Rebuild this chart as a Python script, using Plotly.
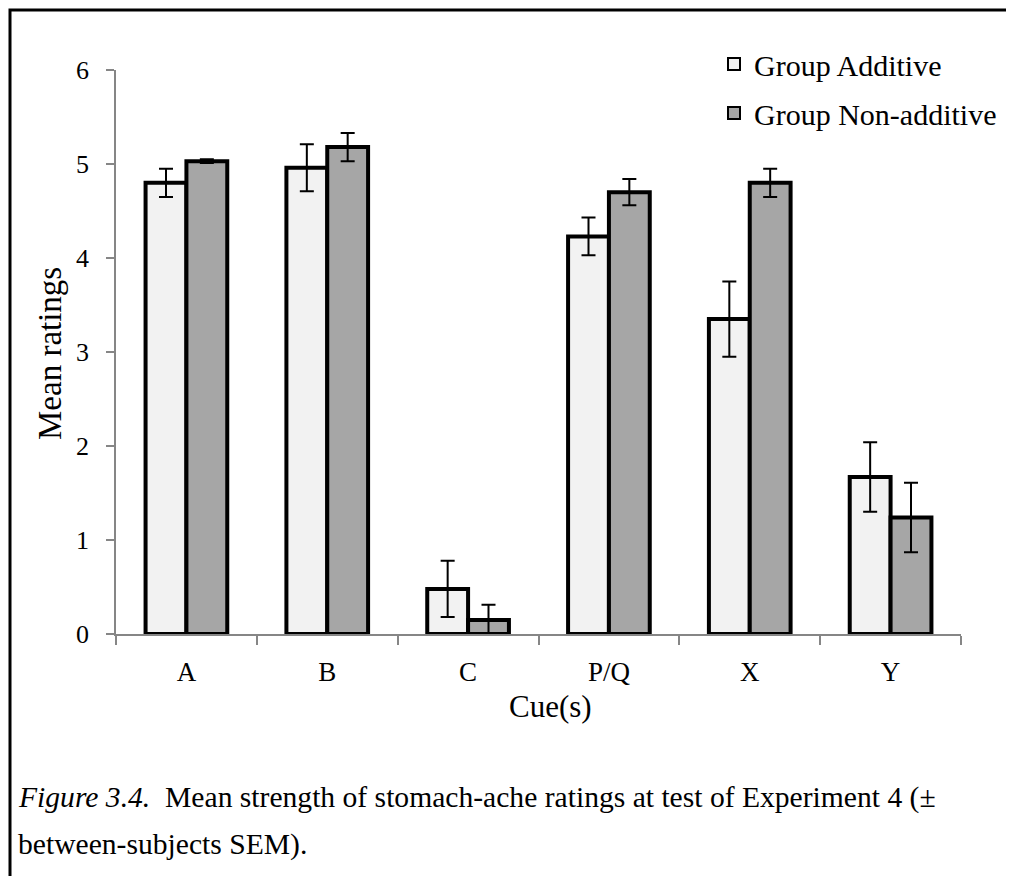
import plotly.graph_objects as go

categories = ["A", "B", "C", "P/Q", "X", "Y"]
additive = [4.80, 4.96, 0.48, 4.23, 3.35, 1.67]
additive_err = [0.15, 0.25, 0.30, 0.20, 0.40, 0.37]
nonadditive = [5.03, 5.18, 0.15, 4.70, 4.80, 1.24]
nonadditive_err = [0.02, 0.15, 0.16, 0.14, 0.15, 0.37]
series_names = ["Group Additive", "Group Non-additive"]
y_ticks = [0, 1, 2, 3, 4, 5, 6]

FONT = "Liberation Serif"
W, H = 998, 868
OFF = 8  # page body margin
L, T = 116 - OFF, 70 - OFF
R = W - (961 - OFF)
B = H - (634 - OFF)
pw, ph = W - L - R, H - T - B

def px(x):
    return (x - OFF - L) / pw

def py(y):
    return (H - B - (y - OFF)) / ph

fig = go.Figure()
fig.add_trace(go.Bar(
    x=categories, y=additive, name=series_names[0],
    marker=dict(color="#f2f2f2", line=dict(color="black", width=4)),
    error_y=dict(type="data", array=additive_err, color="black", thickness=2, width=7),
    legendgroup="a",
))
fig.add_trace(go.Bar(
    x=categories, y=nonadditive, name=series_names[1],
    marker=dict(color="#a6a6a6", line=dict(color="black", width=4)),
    error_y=dict(type="data", array=nonadditive_err, color="black", thickness=2, width=7),
    legendgroup="b",
))

fig.update_layout(
    width=W, height=H,
    margin=dict(l=L, r=R, t=T, b=B, autoexpand=False),
    paper_bgcolor="white", plot_bgcolor="white",
    barmode="group", bargap=0.42, bargroupgap=0,
    font=dict(family=FONT, color="black"),
    legend=dict(x=px(714), y=py(38), xanchor="left", yanchor="top",
                font=dict(size=30, family=FONT), bgcolor="rgba(0,0,0,0)",
                traceorder="grouped", tracegroupgap=7, itemsizing="constant"),
    xaxis=dict(showline=True, linecolor="#868686", linewidth=1.5,
               ticks="outside", tickson="boundaries", ticklen=9, tickcolor="#868686", tickwidth=1.5,
               ticklabelstandoff=13,
               tickfont=dict(size=27, family=FONT), showgrid=False),
    yaxis=dict(range=[0, 6], tickvals=y_ticks, showline=True, linecolor="#868686", linewidth=1.5,
               ticks="outside", ticklen=8, tickcolor="#868686", tickwidth=1.5,
               ticklabelstandoff=12,
               tickfont=dict(size=26, family=FONT), showgrid=False, zeroline=False),
    shapes=[dict(type="rect", xref="paper", yref="paper",
                 x0=px(10), x1=px(1030), y0=py(900), y1=py(10),
                 line=dict(color="black", width=3), layer="above")],
    annotations=[
        dict(text="Mean ratings", xref="paper", yref="paper", x=px(50), y=py(354),
             textangle=-90, showarrow=False, font=dict(size=33, family=FONT),
             xanchor="center", yanchor="middle"),
        dict(text="Cue(s)", xref="paper", yref="paper", x=px(550), y=py(706),
             showarrow=False, font=dict(size=31, family=FONT), xanchor="center", yanchor="middle"),
        dict(text="<i>Figure 3.4.</i>\u00a0\u00a0Mean strength of stomach-ache ratings at test of Experiment 4 (±",
             xref="paper", yref="paper", x=px(16), y=py(798), showarrow=False,
             font=dict(size=29.6, family=FONT), xanchor="left", yanchor="middle"),
        dict(text="between-subjects SEM).",
             xref="paper", yref="paper", x=px(16), y=py(844), showarrow=False,
             font=dict(size=29.6, family=FONT), xanchor="left", yanchor="middle"),
    ],
)

fig.write_html("out.html")
